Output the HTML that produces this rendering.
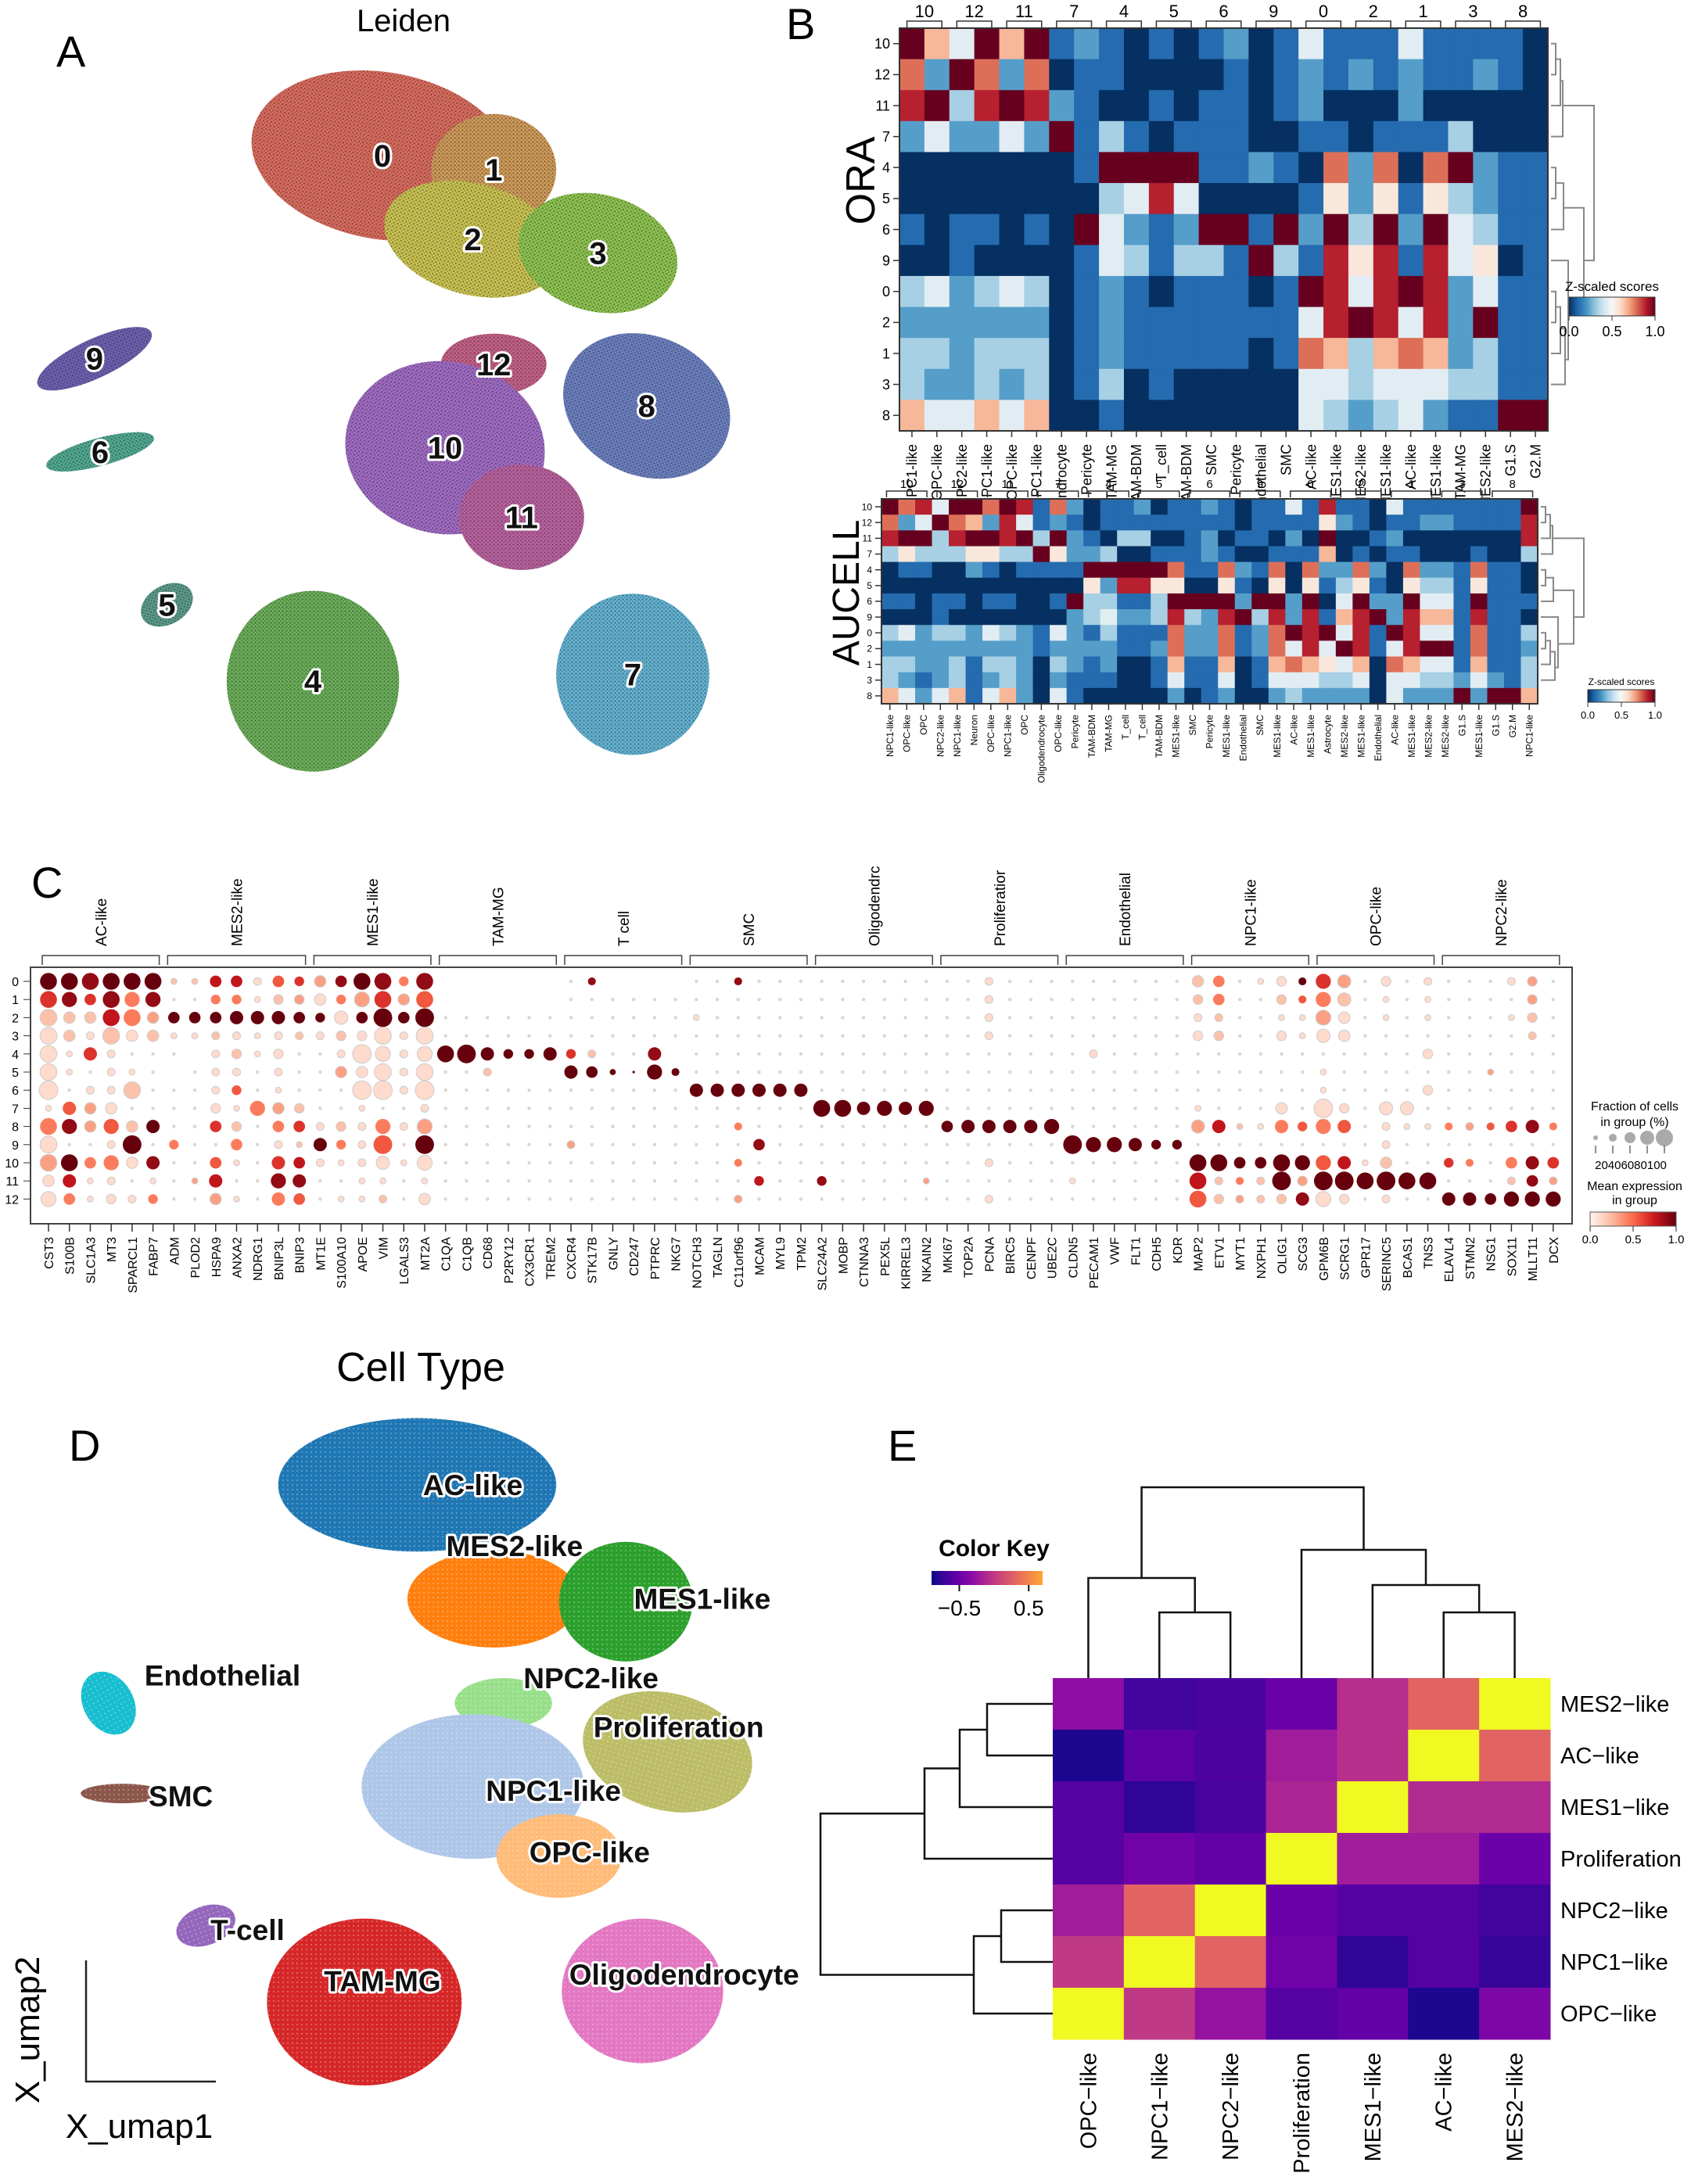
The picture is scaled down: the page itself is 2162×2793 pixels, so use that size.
<!DOCTYPE html>
<html><head><meta charset="utf-8"><style>
html,body{margin:0;padding:0;background:#fff}
svg{display:block;font-family:"Liberation Sans","DejaVu Sans",sans-serif}
.halo{paint-order:stroke;stroke:#fff;stroke-width:6px;stroke-linejoin:round;font-weight:bold}
</style></head><body>
<svg id="fig" width="2162" height="2793" viewBox="0 0 2162 2793" xmlns="http://www.w3.org/2000/svg">
<defs>
<pattern id="speck" width="5" height="5" patternUnits="userSpaceOnUse"><circle cx="1.5" cy="1.5" r="1.1" fill="#222" opacity="0.5"/><circle cx="4" cy="3.8" r="0.9" fill="#222" opacity="0.4"/></pattern>
<pattern id="speck2" width="6" height="6" patternUnits="userSpaceOnUse"><circle cx="2" cy="3" r="1" fill="#fff" opacity="0.35"/></pattern>
</defs>
<text x="72" y="85" font-size="56">A</text>
<text x="1005" y="50" font-size="56">B</text>
<text x="40" y="1148" font-size="56">C</text>
<text x="88" y="1868" font-size="56">D</text>
<text x="1135" y="1868" font-size="56">E</text>
<text x="516" y="40" font-size="40" text-anchor="middle">Leiden</text>
<text x="538" y="1766" font-size="52" text-anchor="middle">Cell Type</text>
<text transform="translate(1118,231) rotate(-90)" font-size="52" text-anchor="middle">ORA</text>
<text transform="translate(1098,758) rotate(-90)" font-size="48" text-anchor="middle">AUCELL</text>
<g id="gA"></g>
<g id="gB1"></g>
<g id="gB2"></g>
<g id="gC"></g>
<g id="gD"></g>
<g id="gE"></g>
</svg>
<script>
// ---------- DATA ----------
const leidenIds=['0','1','2','3','12','8','10','11','9','6','5','4','7'];
const leidenX=[275,355,340,430,355,465,320,375,68,72,120,225,455];
const leidenY=[112,122,172,182,262,292,322,372,258,325,435,490,485];
const leidenRX=[95,45,65,58,38,62,72,45,45,40,20,62,55];
const leidenRY=[60,40,40,42,22,50,62,38,14,10,14,65,58];
const leidenRot=[10,0,15,15,0,25,10,0,-25,-15,-30,0,0];
const leidenCol=['#d86a5c','#cf9a58','#c9c250','#8cc24e','#c35f86','#6b7fc0','#9f6ac4','#b8609e','#6c5fb0','#4fa890','#5b9a8a','#6aae58','#62b2d2'];

const ctNames=['AC-like','MES2-like','MES1-like','NPC2-like','Proliferation','NPC1-like','OPC-like','Endothelial','SMC','T-cell','TAM-MG','Oligodendrocyte'];
const ctX=[300,355,450,362,480,340,402,78,88,148,262,462];
const ctY=[1068,1150,1152,1225,1260,1285,1335,1225,1290,1385,1440,1432];
const ctRX=[100,62,48,35,62,80,45,18,30,22,70,58];
const ctRY=[48,35,43,18,42,52,30,24,7,14,60,52];
const ctRot=[0,0,0,0,15,0,0,-30,0,-20,0,0];
const ctCol=['#1f77b4','#ff7f0e','#2ca02c','#98df8a','#bcbd66','#aec7e8','#ffbb78','#17becf','#8c564b','#9467bd','#d62728','#e377c2'];
const ctLabX=[340,370,505,425,488,398,424,160,130,178,275,492];
const ctLabY=[1068,1112,1150,1207,1242,1288,1332,1205,1292,1388,1425,1420];

const oraRows=['10','12','11','7','4','5','6','9','0','2','1','3','8'];
const oraCols=['NPC1-like','OPC-like','NPC2-like','NPC1-like','OPC-like','NPC1-like','Oligodendrocyte','Pericyte','TAM-MG','TAM-BDM','T_cell','TAM-BDM','SMC','Pericyte','Endothelial','SMC','AC-like','MES1-like','MES2-like','MES1-like','AC-like','MES1-like','TAM-MG','MES2-like','G1.S','G2.M'];
const oraGroups=['10','12','11','7','4','5','6','9','0','2','1','3','8'];
const oraVals=[
"964969|12|10|10|12|01|41|11|41|11|10",
"729727|01|10|00|01|01|21|21|21|12|10",
"893898|21|00|10|11|01|20|00|20|00|00",
"242242|91|31|01|11|00|11|01|11|30|00",
"000000|01|99|99|11|21|07|27|07|92|11",
"000000|00|34|84|00|00|15|25|15|32|11",
"101101|09|42|12|99|19|29|39|29|43|11",
"001000|01|43|13|31|93|18|58|18|45|01",
"342343|01|21|01|11|01|98|48|98|24|11",
"222222|01|21|11|11|11|48|98|48|29|11",
"332333|01|21|11|11|01|76|36|76|23|11",
"322323|01|30|10|00|00|44|34|44|33|11",
"644646|00|10|00|00|00|43|23|42|11|99"];

const aucCols=['NPC1-like','OPC-like','OPC','NPC2-like','NPC1-like','Neuron','OPC-like','NPC1-like','OPC','Oligodendrocyte','OPC-like','Pericyte','TAM-BDM','TAM-MG','T_cell','T_cell','TAM-BDM','MES1-like','SMC','Pericyte','MES1-like','Endothelial','SMC','MES1-like','AC-like','MES1-like','Astrocyte','MES2-like','MES1-like','Endothelial','AC-like','MES1-like','MES2-like','MES2-like','G1.S','MES1-like','G1.S','G2.M','NPC1-like'];
const aucVals=[
"978|499|798|172|011|201|121|011|418|110|411|111|119",
"724|976|284|121|011|111|111|011|115|210|112|211|118",
"899|389|989|392|103|300|120|110|209|001|200|000|008",
"353|335|533|952|230|011|121|001|116|010|110|001|003",
"011|002|101|111|999|997|117|217|072|272|072|217|110",
"000|000|000|000|528|855|005|105|051|351|053|315|110",
"110|110|110|019|331|139|999|299|290|492|294|419|111",
"000|100|000|002|342|238|328|938|281|689|286|618|110",
"342|332|432|142|131|117|227|127|989|481|984|417|113",
"222|222|222|122|221|127|227|127|484|981|489|917|112",
"332|231|332|032|120|016|116|016|765|460|764|416|113",
"321|231|232|021|110|014|114|014|443|340|443|324|213",
"642|461|462|041|000|002|012|002|322|220|422|292|996"];

const geneGroups=['AC-like','MES2-like','MES1-like','TAM-MG','T cell','SMC','Oligodendrc','Proliferatior','Endothelial','NPC1-like','OPC-like','NPC2-like'];
const geneGroupSizes=[6,7,6,6,6,6,6,6,6,6,6,6];
const genes=['CST3','S100B','SLC1A3','MT3','SPARCL1','FABP7','ADM','PLOD2','HSPA9','ANXA2','NDRG1','BNIP3L','BNIP3','MT1E','S100A10','APOE','VIM','LGALS3','MT2A','C1QA','C1QB','CD68','P2RY12','CX3CR1','TREM2','CXCR4','STK17B','GNLY','CD247','PTPRC','NKG7','NOTCH3','TAGLN','C11orf96','MCAM','MYL9','TPM2','SLC24A2','MOBP','CTNNA3','PEX5L','KIRREL3','NKAIN2','MKI67','TOP2A','PCNA','BIRC5','CENPF','UBE2C','CLDN5','PECAM1','VWF','FLT1','CDH5','KDR','MAP2','ETV1','MYT1','NXPH1','OLIG1','SCG3','GPM6B','SCRG1','GPR17','SERINC5','BCAS1','TNS3','ELAVL4','STMN2','NSG1','SOX11','MLLT11','DCX'];
const dotRows=['0','1','2','3','4','5','6','7','8','9','10','11','12'];
const fracRows=[
"888888|2255354|558848|000000|130000|113111|111111|113111|111111|551243|761413|111341",
"875877|1144244|547858|000000|111111|111111|111111|113111|111111|451143|761212|111141",
"855885|5556665|465959|111111|111111|211111|111111|113111|111111|331122|751212|111241",
"853855|2233233|344838|111111|111111|111111|111111|113111|111111|441142|651111|111131",
"826311|1034241|139737|896446|431160|111111|111111|111111|131111|111111|111114|111111",
"821321|0133131|155838|113000|652173|111111|111111|111111|111111|111111|211111|112111",
"913381|1134121|119939|111111|111111|666666|111111|111111|111111|111111|211114|111111",
"265511|1142754|112113|111111|111111|111111|886767|111111|111111|211151|941661|111111",
"875756|1154155|343737|111111|111111|113111|111111|566667|111111|662264|761322|333563",
"811391|4115132|643919|111111|311111|111511|111111|111111|977644|111111|111311|111111",
"885756|1152165|323627|111111|111111|113111|111111|113111|111111|885587|762511|431565",
"562312|1261176|112212|111111|111111|111411|411112|111111|211111|833394|998988|111353",
"752434|1152165|122315|111111|111111|113111|111111|113111|111111|843346|741311|665777"];
const exprRows=[
"998999|2277156|389848|000000|181111|118111|111111|111111|111111|241119|631111|111131",
"686848|1144123|143635|000000|111111|111111|111111|111111|111111|241125|421111|111131",
"222743|9999999|919999|111111|111111|111111|111111|111111|111111|121111|311111|111121",
"121212|1121112|121111|111111|111111|111111|111111|111111|111111|121111|111111|111121",
"116111|1112111|111111|999999|621181|111111|111111|111111|111111|111111|111111|111111",
"111111|1111111|131111|112111|999999|111111|111111|111111|111111|111111|111111|113111",
"111121|1115111|111111|111111|111111|999999|111111|111111|111111|111111|111111|111111",
"153111|1111432|111111|111111|111111|111111|999999|111111|111111|111111|111111|111111",
"483529|1162146|121413|111111|111111|114111|111111|999999|111111|372145|451111|435684",
"111191|4114112|941519|111111|311111|111811|111111|111111|999999|111111|111111|111111",
"394418|1151167|111111|111111|111111|114111|111111|111111|111111|999999|571211|641486",
"171111|1371188|111111|111111|111111|111711|811113|111111|111111|724293|999999|111283",
"141114|1131145|111211|111111|111111|113111|111111|111111|111111|523228|111111|999999"];
const sizeLegendVals=['20','40','60','80','100'];

const eRows=['MES2\u2212like','AC\u2212like','MES1\u2212like','Proliferation','NPC2\u2212like','NPC1\u2212like','OPC\u2212like'];
const eCols=['OPC\u2212like','NPC1\u2212like','NPC2\u2212like','Proliferation','MES1\u2212like','AC\u2212like','MES2\u2212like'];
const eVals=[
[-0.42,-0.74,-0.71,-0.58,-0.23,0.06,1],
[-0.85,-0.63,-0.69,-0.34,-0.23,1,0.06],
[-0.66,-0.79,-0.71,-0.29,1,-0.26,-0.26],
[-0.66,-0.55,-0.61,1,-0.34,-0.34,-0.58],
[-0.34,0.06,1,-0.58,-0.66,-0.66,-0.74],
[-0.18,1,0.06,-0.55,-0.79,-0.66,-0.77],
[1,-0.18,-0.39,-0.66,-0.61,-0.85,-0.5]];
const eKeyTicks=[-0.5,0.5];

// ---------- helpers ----------
const NS='http://www.w3.org/2000/svg';
function mk(tag,attrs,parent){const e=document.createElementNS(NS,tag);for(const k in attrs)e.setAttribute(k,attrs[k]);parent.appendChild(e);return e;}
function lerpStops(stops,t){t=Math.max(0,Math.min(1,t));const n=stops.length-1;const i=Math.min(n-1,Math.floor(t*n));const f=t*n-i;
 const a=stops[i],b=stops[i+1];const p=h=>[parseInt(h.substr(1,2),16),parseInt(h.substr(3,2),16),parseInt(h.substr(5,2),16)];
 const A=p(a),B=p(b);return 'rgb('+A.map((v,j)=>Math.round(v+(B[j]-v)*f)).join(',')+')';}
const RDBU=['#053061','#2166ac','#4393c3','#92c5de','#d1e5f0','#f7f7f7','#fddbc7','#f4a582','#d6604d','#b2182b','#67001f'];
const REDS=['#fff5f0','#fcbba1','#fb6a4a','#cb181d','#67000d'];
const PLASMA=['#0d0887','#41049d','#6a00a8','#8f0da4','#b12a90','#cc4778','#e16462','#f2844b','#fca636','#fcce25','#f0f921'];
const S=1.778;
const defs=document.querySelector('defs');
function gradient(id,stops){const g=mk('linearGradient',{id:id,x1:0,x2:1,y1:0,y2:0},defs);stops.forEach((c,i)=>mk('stop',{offset:i/(stops.length-1),'stop-color':c},g));}
gradient('gRdBu',RDBU);gradient('gReds',REDS);gradient('gPlasma',PLASMA.slice(0,9));

// ---------- Panel A ----------
const gA=document.getElementById('gA');
leidenIds.forEach((id,i)=>{
 const tr='rotate('+leidenRot[i]+' '+leidenX[i]*S+' '+leidenY[i]*S+')';
 const e=mk('ellipse',{cx:leidenX[i]*S,cy:leidenY[i]*S,rx:leidenRX[i]*S,ry:leidenRY[i]*S,fill:leidenCol[i],transform:tr},gA);
 
 
 const t=mk('ellipse',{cx:leidenX[i]*S,cy:leidenY[i]*S,rx:leidenRX[i]*S,ry:leidenRY[i]*S,fill:'url(#speck)',transform:tr},gA);
 
 
});
leidenIds.forEach((id,i)=>{
 const t=mk('text',{x:leidenX[i]*S,y:leidenY[i]*S+14,'font-size':40,'text-anchor':'middle',class:'halo',fill:'#111'},gA);
 t.textContent=id;
 
 
});

// ---------- Panel D ----------
const gD=document.getElementById('gD');
ctNames.forEach((n,i)=>{
 const tr='rotate('+ctRot[i]+' '+ctX[i]*S+' '+ctY[i]*S+')';
 const e=mk('ellipse',{cx:ctX[i]*S,cy:ctY[i]*S,rx:ctRX[i]*S,ry:ctRY[i]*S,fill:ctCol[i],transform:tr},gD);
 
 
 const t=mk('ellipse',{cx:ctX[i]*S,cy:ctY[i]*S,rx:ctRX[i]*S,ry:ctRY[i]*S,fill:'url(#speck2)',transform:tr},gD);
 
 
});
ctNames.forEach((n,i)=>{
 const t=mk('text',{x:ctLabX[i]*S,y:ctLabY[i]*S+13,'font-size':37,'text-anchor':'middle',class:'halo',fill:'#111'},gD);
 t.textContent=n;
 
 
});
const ax=mk('path',{d:'M110 2507 V2662 H276',fill:'none',stroke:'#222','stroke-width':2.5},gD);


let tt=mk('text',{transform:'translate(50,2596) rotate(-90)','font-size':44,'text-anchor':'middle'},gD);tt.textContent='X_umap2';


tt=mk('text',{x:178,y:2734,'font-size':44,'text-anchor':'middle'},gD);tt.textContent='X_umap1';



// ---------- heatmap builder (B) ----------
function heat(g,rows,cols,vals,groups,x0,y0,W,H,fsRow,fsCol,fsGrp,grpY,brY,colY){
 const nc=cols.length,nr=rows.length,cw=W/nc,rh=H/nr;
 vals.forEach((str,r)=>{const d=str.replace(/\|/g,'');for(let c=0;c<nc;c++){
  const rc=mk('rect',{x:x0+c*cw,y:y0+r*rh,width:cw+0.6,height:rh+0.6,fill:lerpStops(RDBU,(+d[c])/9)},g);
  
  }});
 mk('rect',{x:x0,y:y0,width:W,height:H,fill:'none',stroke:'#333','stroke-width':2},g);
 rows.forEach((r,i)=>{const t=mk('text',{x:x0-12,y:y0+(i+0.5)*rh+fsRow*0.35,'font-size':fsRow,'text-anchor':'end'},g);t.textContent=r;
  
  
  mk('line',{x1:x0-8,x2:x0,y1:y0+(i+0.5)*rh,y2:y0+(i+0.5)*rh,stroke:'#333','stroke-width':1.5},g);});
 cols.forEach((c,i)=>{const cx=x0+(i+0.5)*cw;mk('line',{x1:cx,x2:cx,y1:y0+H,y2:y0+H+8,stroke:'#333','stroke-width':1.5},g);
  const t=mk('text',{transform:'translate('+(cx+fsCol*0.35)+','+colY+') rotate(-90)','font-size':fsCol,'text-anchor':'end'},g);t.textContent=c;
  
  });
 const per=nc/groups.length;
 groups.forEach((gname,i)=>{const a=x0+i*per*cw+cw*0.3,b=x0+(i+1)*per*cw-cw*0.3;
  mk('path',{d:'M'+a+' '+(brY+8)+' V'+brY+' H'+b+' V'+(brY+8),fill:'none',stroke:'#333','stroke-width':1.5},g);
  const t=mk('text',{x:(a+b)/2,y:grpY,'font-size':fsGrp,'text-anchor':'middle'},g);t.textContent=gname;
  
  });
 // dendrogram
 const xd=x0+W+4,rowY=i=>y0+(i+0.5)*rh,dw=22;
 const dpath='M'+xd+' '+rowY(0)+' h6 V'+rowY(1)+' h-6 M'+(xd+6)+' '+(rowY(0.5))+' h6 V'+rowY(2)+' h-12 M'+(xd+12)+' '+rowY(1.2)+' h3 V'+rowY(3)+' h-15'
 +' M'+xd+' '+rowY(4)+' h6 V'+rowY(5)+' h-6 M'+(xd+6)+' '+rowY(4.5)+' h10 V'+rowY(6)+' h-16'
 +' M'+xd+' '+rowY(8)+' h6 V'+rowY(9)+' h-6 M'+(xd+6)+' '+rowY(8.5)+' h6 V'+rowY(10)+' h-12 M'+(xd+12)+' '+rowY(9.2)+' h6 V'+rowY(11)+' h-18 M'+(xd+18)+' '+rowY(10.2)+' h4 V'+rowY(7)+' h-22'
 +' M'+(xd+16)+' '+rowY(5.3)+' h'+(dw+4)+' V'+rowY(8.7)+' H'+(xd+22)+' M'+(xd+15)+' '+rowY(2)+' h'+(dw+18)+' V'+rowY(7)+' H'+(xd+dw+20);
 const dp=mk('path',{d:dpath,fill:'none',stroke:'#888','stroke-width':2},g);
 
 
}
function cbar(g,x,y,w,h,fsT,fsK,tyTitle){
 mk('rect',{x:x,y:y,width:w,height:h,fill:'url(#gRdBu)',stroke:'#333','stroke-width':1},g);
 let t=mk('text',{x:x+w/2,y:tyTitle,'font-size':fsT,'text-anchor':'middle'},g);t.textContent='Z-scaled scores';
 
 
 ['0.0','0.5','1.0'].forEach((s,i)=>{const xx=x+i*w/2;mk('line',{x1:xx,x2:xx,y1:y+h,y2:y+h+6,stroke:'#333'},g);
  const k=mk('text',{x:xx,y:y+h+8+fsK,'font-size':fsK,'text-anchor':'middle'},g);k.textContent=s;
  
  });
}
const gB1=document.getElementById('gB1');
heat(gB1,oraRows,oraCols,oraVals,oraGroups,1150,36,829,515,18,18,22,22,27,568);
cbar(gB1,2006,380,110,24,17,18,372);
const gB2=document.getElementById('gB2');
heat(gB2,oraRows,aucCols,aucVals,oraGroups,1127,638,839,262,12,12,15,624,628,914);
cbar(gB2,2030,882,86,16,12,13,876);

// ---------- Panel C dotplot ----------
const gC=document.getElementById('gC');
const cx0=62,cdx=26.72,cy0=1255,cdy=23.2;
const xG=i=>cx0+i*cdx,yR=r=>cy0+r*cdy;
const box=mk('rect',{x:39,y:1237,width:1971,height:328,fill:'none',stroke:'#444','stroke-width':2},gC);


dotRows.forEach((r,ri)=>{
 const t=mk('text',{x:24,y:yR(ri)+6,'font-size':16,'text-anchor':'end'},gC);t.textContent=r;
 
 
 mk('line',{x1:30,x2:39,y1:yR(ri),y2:yR(ri),stroke:'#333'},gC);
 const fs=fracRows[ri].replace(/\|/g,''),es=exprRows[ri].replace(/\|/g,'');
 for(let gi=0;gi<genes.length;gi++){const s=+fs[gi];if(!s)continue;const c=+es[gi];
  const d=mk('circle',{cx:xG(gi),cy:yR(ri),r:s===1?1.6:1.6+s*1.15,fill:lerpStops(REDS,c/9),stroke:c<4?'#ccc':'none','stroke-width':1},gC);
  
  }
});
genes.forEach((g,i)=>{mk('line',{x1:xG(i),x2:xG(i),y1:1565,y2:1575,stroke:'#333','stroke-width':1.5},gC);
 const t=mk('text',{transform:'translate('+(xG(i)+6)+',1582) rotate(-90)','font-size':16,'text-anchor':'end'},gC);t.textContent=g;
 
 });
let gs=0;
geneGroups.forEach((gn,i)=>{const a=xG(gs)-8,b=xG(gs+geneGroupSizes[i]-1)+8;gs+=geneGroupSizes[i];
 mk('path',{d:'M'+a+' 1234 V1222 H'+b+' V1234',fill:'none',stroke:'#444','stroke-width':1.5},gC);
 const t=mk('text',{transform:'translate('+((a+b)/2+7)+',1210) rotate(-90)','font-size':19,'text-anchor':'start'},gC);t.textContent=gn;
 
 });
(function(){let t=mk('text',{x:2090,y:1420,'font-size':16,'text-anchor':'middle'},gC);t.textContent='Fraction of cells';
 
 
 t=mk('text',{x:2090,y:1440,'font-size':16,'text-anchor':'middle'},gC);t.textContent='in group (%)';
 
 
 sizeLegendVals.forEach((v,i)=>{const x=2040+i*22;const c=mk('circle',{cx:x,cy:1455,r:3+i*2,fill:'#aaa'},gC);
  
  
  mk('line',{x1:x,x2:x,y1:1465,y2:1475,stroke:'#222'},gC);});
 t=mk('text',{x:2085,y:1495,'font-size':15,'text-anchor':'middle'},gC);t.textContent=sizeLegendVals.join('');
 
 
 t=mk('text',{x:2090,y:1522,'font-size':16,'text-anchor':'middle'},gC);t.textContent='Mean expression';
 
 
 t=mk('text',{x:2090,y:1540,'font-size':16,'text-anchor':'middle'},gC);t.textContent='in group';
 
 
 const r=mk('rect',{x:2033,y:1550,width:110,height:18,fill:'url(#gReds)',stroke:'#555'},gC);
 
 
 ['0.0','0.5','1.0'].forEach((s,i)=>{const x=2033+i*55;mk('line',{x1:x,x2:x,y1:1568,y2:1575,stroke:'#222'},gC);
  const k=mk('text',{x:x,y:1590,'font-size':15,'text-anchor':'middle'},gC);k.textContent=s;
  
  });})();

// ---------- Panel E ----------
const gE=document.getElementById('gE');
const ex0=1346,ey0=2146,ecw=(1982-1346)/7,erh=(2608-2146)/7;
const vmin=-0.9,vmax=0.7;
eVals.forEach((row,r)=>row.forEach((v,c)=>{
 const rc=mk('rect',{x:ex0+c*ecw,y:ey0+r*erh,width:ecw+0.5,height:erh+0.5,fill:lerpStops(PLASMA,(v-vmin)/(vmax-vmin))},gE);
 
 }));
eRows.forEach((n,i)=>{const t=mk('text',{x:1995,y:ey0+(i+0.5)*erh+10,'font-size':29},gE);t.textContent=n;
 
 });
eCols.forEach((n,i)=>{const x=ex0+(i+0.5)*ecw;const t=mk('text',{transform:'translate('+(x+10)+',2625) rotate(-90)','font-size':29,'text-anchor':'end'},gE);t.textContent=n;
 
 });
(function(){const cX=i=>ex0+(i+0.5)*ecw,rY=i=>ey0+(i+0.5)*erh;
 const L=2146;
 const top='M'+cX(1)+' '+L+' V2062 H'+cX(2)+' V'+L+
 ' M'+cX(0)+' '+L+' V2018 H'+((cX(1)+cX(2))/2)+' V2062'+
 ' M'+cX(5)+' '+L+' V2062 H'+cX(6)+' V'+L+
 ' M'+cX(4)+' '+L+' V2027 H'+((cX(5)+cX(6))/2)+' V2062'+
 ' M'+cX(3)+' '+L+' V1982 H'+((cX(4)+(cX(5)+cX(6))/2)/2)+' V2027'+
 ' M'+((cX(0)+(cX(1)+cX(2))/2)/2)+' 2018 V1902 H'+((cX(3)+(cX(4)+(cX(5)+cX(6))/2)/2)/2)+' V1982';
 const p1=mk('path',{d:top,fill:'none',stroke:'#111','stroke-width':2.5},gE);
 
 
 const X=1346;
 const left='M'+X+' '+rY(0)+' H1262 V'+rY(1)+' H'+X+
 ' M1262 '+((rY(0)+rY(1))/2)+' H1227 V'+rY(2)+' H'+X+
 ' M1227 '+((rY(2)+(rY(0)+rY(1))/2)/2)+' H1182 V'+rY(3)+' H'+X+
 ' M'+X+' '+rY(4)+' H1280 V'+rY(5)+' H'+X+
 ' M1280 '+((rY(4)+rY(5))/2)+' H1245 V'+rY(6)+' H'+X+
 ' M1182 '+((rY(3)+(rY(2)+(rY(0)+rY(1))/2)/2)/2)+' H1049 V'+((rY(6)+(rY(4)+rY(5))/2)/2)+' H1245';
 const p2=mk('path',{d:left,fill:'none',stroke:'#111','stroke-width':2.5},gE);
 
 
 let t=mk('text',{x:1271,y:1990,'font-size':30,'font-weight':'bold','text-anchor':'middle'},gE);t.textContent='Color Key';
 
 
 const kb=mk('rect',{x:1191,y:2009,width:142,height:18,fill:'url(#gPlasma)'},gE);
 
 
 eKeyTicks.forEach(v=>{const x=1191+(v-vmin)/(vmax-vmin)*142;mk('line',{x1:x,x2:x,y1:2027,y2:2035,stroke:'#111','stroke-width':2},gE);
  const k=mk('text',{x:x,y:2066,'font-size':28,'text-anchor':'middle'},gE);k.textContent=(v<0?'\u2212':'')+Math.abs(v).toFixed(1);
  
  });
})();
</script>
</body></html>
